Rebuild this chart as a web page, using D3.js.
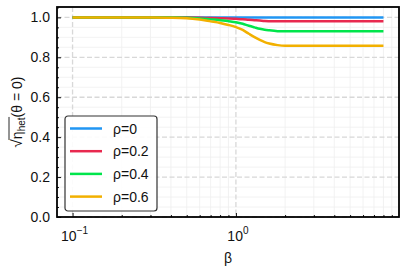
<!DOCTYPE html>
<html>
<head>
<meta charset="utf-8">
<script src="https://cdn.jsdelivr.net/npm/d3@7"></script>
<style>
  body { margin: 0; background: #fff; }
  svg text { font-family: "Liberation Sans", Arial, sans-serif; fill: #111; }
</style>
</head>
<body>
<div id="chart"></div>
<script>
// beta sample points (log axis)
const beta = [0.1, 0.2, 0.3, 0.4, 0.5, 0.6, 0.7, 0.8, 0.9, 1.0, 1.1, 1.2, 1.3, 1.4, 1.5, 1.6, 1.8, 2.0, 2.5, 3, 4, 5, 6, 8];
const rho0  = [1, 1, 1, 1, 1, 1, 1, 1, 1, 1, 1, 1, 1, 1, 1, 1, 1, 1, 1, 1, 1, 1, 1, 1];
const rho02 = [1, 1, 1, 1, 0.9994, 0.998, 0.997, 0.996, 0.995, 0.993, 0.991, 0.988, 0.986, 0.984, 0.982, 0.981, 0.980, 0.980, 0.980, 0.980, 0.980, 0.980, 0.980, 0.980];
const rho04 = [1, 1, 1, 0.9993, 0.998, 0.9945, 0.990, 0.986, 0.981, 0.976, 0.968, 0.958, 0.950, 0.943, 0.938, 0.935, 0.931, 0.930, 0.930, 0.930, 0.930, 0.930, 0.930, 0.930];
const rho06 = [1, 1, 0.9996, 0.9986, 0.996, 0.989, 0.980, 0.972, 0.962, 0.951, 0.937, 0.918, 0.901, 0.887, 0.876, 0.869, 0.861, 0.858, 0.858, 0.858, 0.858, 0.858, 0.858, 0.858];
const seriesNames = ["ρ=0", "ρ=0.2", "ρ=0.4", "ρ=0.6"];
const seriesColors = ["#2196f3", "#e8294f", "#00e54b", "#f2b000"];
const yTicks = [0, 0.2, 0.4, 0.6, 0.8, 1.0];
const xTicks = [0.1, 1];

const W = 408, H = 276;
const margin = { top: 7, right: 9, bottom: 59, left: 57 };
const width = W - margin.left - margin.right;
const height = H - margin.top - margin.bottom;
const fs = 14;

const svg = d3.select("#chart").append("svg")
    .attr("width", W).attr("height", H);
const g = svg.append("g").attr("transform", `translate(${margin.left},${margin.top})`);

const x = d3.scaleLog().domain([Math.pow(10, -1.0952), Math.pow(10, 0.9983)]).range([0, width]);
const y = d3.scaleLinear().domain([0, 1.052]).range([height, 0]);

// minor grid
const xMinor = [];
for (const dec of [0.1, 1]) for (let k = 2; k <= 9; k++) xMinor.push(dec * k);
const xMinorIn = xMinor.filter(v => x(v) > 0 && x(v) < width);
const yMinor = d3.range(0, 1.0501, 0.05).filter(v => Math.abs(v * 5 - Math.round(v * 5)) > 1e-6);

g.selectAll(".xmg").data(xMinorIn).enter().append("line")
    .attr("x1", d => x(d)).attr("x2", d => x(d)).attr("y1", 0).attr("y2", height)
    .attr("stroke", "#efefef").attr("stroke-width", 0.8);
g.selectAll(".ymg").data(yMinor).enter().append("line")
    .attr("x1", 0).attr("x2", width).attr("y1", d => y(d)).attr("y2", d => y(d))
    .attr("stroke", "#efefef").attr("stroke-width", 0.8);

// major grid
g.selectAll(".xg").data(xTicks).enter().append("line")
    .attr("x1", d => x(d)).attr("x2", d => x(d)).attr("y1", 0).attr("y2", height)
    .attr("stroke", "#d8d8d8").attr("stroke-width", 1.3).attr("stroke-dasharray", "5,2.5");
g.selectAll(".yg").data(yTicks).enter().append("line")
    .attr("x1", 0).attr("x2", width).attr("y1", d => y(d)).attr("y2", d => y(d))
    .attr("stroke", "#d8d8d8").attr("stroke-width", 1.3).attr("stroke-dasharray", "5,2.5");

// lines
const series = [rho0, rho02, rho04, rho06];
const line = d3.line()
    .x((d, i) => x(beta[i]))
    .y(d => y(d))
    .curve(d3.curveMonotoneX);
series.forEach((s, i) => {
    g.append("path").datum(s)
        .attr("d", line)
        .attr("fill", "none")
        .attr("stroke", seriesColors[i])
        .attr("stroke-width", 2.5);
});

// axes (ticks inward)
const yAxis = g.append("g").call(d3.axisLeft(y).tickValues(yTicks).tickSize(-4).tickPadding(7).tickFormat(d3.format(".1f")));
yAxis.select(".domain").remove();
yAxis.selectAll("text").attr("font-size", fs).attr("font-family", "Liberation Sans, Arial, sans-serif");
g.append("g").call(d3.axisLeft(y).tickValues(yMinor).tickSize(-2).tickFormat(""))
    .select(".domain").remove();

const xAxis = g.append("g").attr("transform", `translate(0,${height})`)
    .call(d3.axisBottom(x).tickValues(xTicks).tickSize(-4).tickFormat(""));
xAxis.select(".domain").remove();
g.append("g").attr("transform", `translate(0,${height})`)
    .call(d3.axisBottom(x).tickValues(xMinorIn).tickSize(-2).tickFormat(""))
    .select(".domain").remove();
g.selectAll(".tick line").attr("stroke", "#111").attr("stroke-width", 1);

// x tick labels 10^n
xTicks.forEach(v => {
    const e = Math.round(Math.log10(v));
    const t = g.append("text")
        .attr("x", x(v) + (e < 0 ? 2 : 2))
        .attr("y", height + 24)
        .attr("text-anchor", "middle")
        .attr("font-size", fs);
    t.append("tspan").text("10");
    t.append("tspan").attr("dy", -7).attr("font-size", 10).text(e < 0 ? "\u2212" + (-e) : String(e));
});

// frame
g.append("rect").attr("width", width).attr("height", height)
    .attr("fill", "none").attr("stroke", "#000").attr("stroke-width", 1.8);

// x label
svg.append("text")
    .attr("x", margin.left + width / 2).attr("y", 263)
    .attr("text-anchor", "middle").attr("font-size", fs).text("β");

// y label with sqrt overline
const yl = svg.append("g").attr("transform", `translate(22,${margin.top + height / 2}) rotate(-90)`);
const ylt = yl.append("text").attr("font-size", fs);
ylt.append("tspan").attr("font-size", 15).text("\u221A");
ylt.append("tspan").text("η");
ylt.append("tspan").attr("dy", 3).attr("font-size", 10).text("het");
ylt.append("tspan").attr("dy", -3).text("(θ = 0)");
const totalW = ylt.node().getComputedTextLength();
ylt.attr("x", -totalW / 2);
const sqrtW = ylt.node().getSubStringLength(0, 1);
const rootEnd = ylt.node().getSubStringLength(0, 5);
yl.append("line")
    .attr("x1", -totalW / 2 + sqrtW - 0.8).attr("x2", -totalW / 2 + rootEnd + 0.5)
    .attr("y1", -13).attr("y2", -13)
    .attr("stroke", "#111").attr("stroke-width", 0.9);

// legend
const lg = g.append("g").attr("transform", `translate(${65 - margin.left},${116 - margin.top})`);
lg.append("rect").attr("width", 92).attr("height", 95).attr("rx", 3)
    .attr("fill", "#fff").attr("fill-opacity", 0.9)
    .attr("stroke", "#333").attr("stroke-width", 1.2);
seriesNames.forEach((n, i) => {
    const yy = 12.5 + i * 22.7;
    lg.append("line").attr("x1", 5).attr("x2", 37).attr("y1", yy).attr("y2", yy)
        .attr("stroke", seriesColors[i]).attr("stroke-width", 2.5);
    lg.append("text").attr("x", 48).attr("y", yy + 5).attr("font-size", fs).text(n);
});
</script>
</body>
</html>
